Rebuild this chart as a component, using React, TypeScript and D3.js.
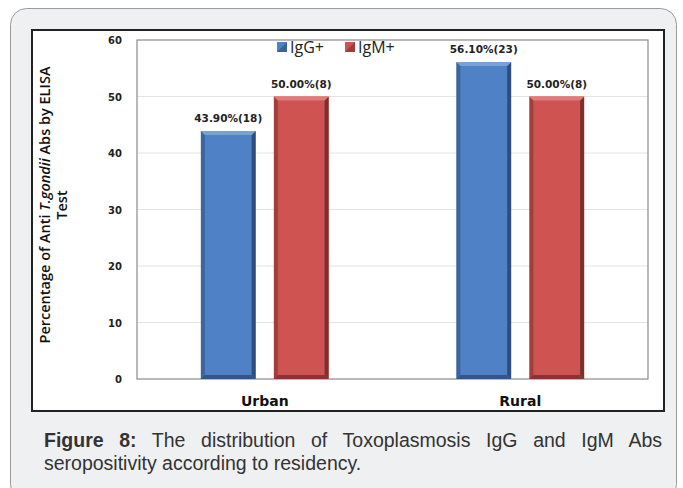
import { useEffect, useRef } from 'react';
import * as d3 from 'd3';

const categories = ['Urban', 'Rural'];
const seriesNames = ['IgG+', 'IgM+'];
const igg = [43.9, 56.1];
const igm = [50.0, 50.0];
const iggLabels = ['43.90%(18)', '56.10%(23)'];
const igmLabels = ['50.00%(8)', '50.00%(8)'];
const yTicks = [0, 10, 20, 30, 40, 50, 60];

const colors = ['#4f81c6', '#cf5350'];
const darks = ['#2e4f7c', '#7d2f2d'];
const lights = ['#7aa0d6', '#e07b78'];

const boldFont = 'DejaVu Sans, Verdana, sans-serif';

export default function App() {
  const ref = useRef<SVGSVGElement>(null);

  useEffect(() => {
    if (!ref.current) return;
    const svg = d3.select(ref.current);
    svg.selectAll('*').remove();

    const width = 683;
    const height = 488;
    svg.attr('width', width).attr('height', height);

    // card
    svg.append('rect')
      .attr('x', 10.5).attr('y', 8.5).attr('width', 666).attr('height', 492)
      .attr('rx', 16).attr('fill', '#eff0f2').attr('stroke', '#9a9a9a').attr('stroke-width', 1);

    // chart frame
    svg.append('rect')
      .attr('x', 32).attr('y', 30).attr('width', 632).attr('height', 381)
      .attr('fill', '#ffffff').attr('stroke', '#222').attr('stroke-width', 2);

    const left = 137, right = 648, top = 40, bottom = 379;

    const y = d3.scaleLinear().domain([0, 60]).range([bottom, top]);
    const x = d3.scaleBand().domain(categories).range([left, right]).paddingInner(0.5).paddingOuter(0.25);
    const xs = d3.scaleBand().domain(seriesNames).range([0, x.bandwidth()]).paddingInner(0.25);

    const g = svg.append('g');

    // gridlines
    g.selectAll('line.grid')
      .data(yTicks.filter((t) => t > 0 && t < 60))
      .enter().append('line')
      .attr('x1', left).attr('x2', right)
      .attr('y1', (d) => y(d)).attr('y2', (d) => y(d))
      .attr('stroke', '#e4e4e4').attr('stroke-width', 1);

    // plot border
    g.append('rect')
      .attr('x', left).attr('y', top).attr('width', right - left).attr('height', bottom - top)
      .attr('fill', 'none').attr('stroke', '#8a8a8a').attr('stroke-width', 1.2);

    // y tick labels
    g.selectAll('text.ytick')
      .data(yTicks)
      .enter().append('text')
      .attr('x', 122).attr('y', (d) => y(d) + 4)
      .attr('text-anchor', 'end')
      .attr('font-family', boldFont).attr('font-weight', 'bold')
      .attr('font-size', 10).attr('fill', '#222')
      .text((d) => d);

    const series = [igg, igm];
    const labels = [iggLabels, igmLabels];

    series.forEach((vals, si) => {
      categories.forEach((c, ci) => {
        const bx = x(c)! + xs(seriesNames[si])!;
        const bw = xs.bandwidth();
        const by = y(vals[ci]);
        const bh = bottom - by;
        const bev = 4;
        const bg = g.append('g');
        bg.append('rect')
          .attr('x', bx).attr('y', by).attr('width', bw).attr('height', bh)
          .attr('fill', colors[si]);
        // right dark bevel
        bg.append('polygon')
          .attr('points', `${bx + bw},${by} ${bx + bw},${by + bh} ${bx + bw - bev},${by + bh - bev} ${bx + bw - bev},${by + bev}`)
          .attr('fill', darks[si]);
        // bottom dark bevel
        bg.append('polygon')
          .attr('points', `${bx},${by + bh} ${bx + bw},${by + bh} ${bx + bw - bev},${by + bh - bev} ${bx + bev},${by + bh - bev}`)
          .attr('fill', darks[si]).attr('opacity', 0.85);
        // left bevel
        bg.append('polygon')
          .attr('points', `${bx},${by} ${bx + bev},${by + bev} ${bx + bev},${by + bh - bev} ${bx},${by + bh}`)
          .attr('fill', darks[si]).attr('opacity', 0.55);
        // top light bevel
        bg.append('polygon')
          .attr('points', `${bx},${by} ${bx + bw},${by} ${bx + bw - bev},${by + bev} ${bx + bev},${by + bev}`)
          .attr('fill', lights[si]);
        g.append('text')
          .attr('x', bx + bw / 2).attr('y', by - 9)
          .attr('text-anchor', 'middle')
          .attr('font-family', boldFont).attr('font-weight', 'bold')
          .attr('font-size', 10.5).attr('fill', '#222')
          .text(labels[si][ci]);
      });
    });

    // x labels
    g.selectAll('text.xlab')
      .data(categories)
      .enter().append('text')
      .attr('x', (d) => x(d)! + x.bandwidth() / 2)
      .attr('y', 406)
      .attr('text-anchor', 'middle')
      .attr('font-family', boldFont).attr('font-weight', 'bold')
      .attr('font-size', 14).attr('fill', '#111')
      .text((d) => d);

    // legend
    const legendX = [277, 345];
    seriesNames.forEach((name, i) => {
      g.append('rect')
        .attr('x', legendX[i]).attr('y', 42).attr('width', 10).attr('height', 10)
        .attr('fill', colors[i]);
      g.append('polygon')
        .attr('points', `${legendX[i]},52 ${legendX[i] + 10},42 ${legendX[i] + 10},52`)
        .attr('fill', darks[i]).attr('opacity', 0.6);
      g.append('text')
        .attr('x', legendX[i] + 13).attr('y', 53)
        .attr('font-family', 'Open Sans, sans-serif')
        .attr('font-size', 16).attr('fill', '#222')
        .text(name);
    });

    // y axis title
    const yt = g.append('text')
      .attr('transform', 'translate(50,205) rotate(-90)')
      .attr('text-anchor', 'middle')
      .attr('font-family', 'Open Sans, sans-serif').attr('font-weight', 600)
      .attr('font-size', 14.5).attr('fill', '#111');
    yt.append('tspan').text('Percentage of Anti ');
    yt.append('tspan').attr('font-style', 'italic').text('T.gondii');
    yt.append('tspan').text(' Abs by ELISA');
    g.append('text')
      .attr('transform', 'translate(67,205) rotate(-90)')
      .attr('text-anchor', 'middle')
      .attr('font-family', 'Open Sans, sans-serif').attr('font-weight', 600)
      .attr('font-size', 14.5).attr('fill', '#111')
      .text('Test');

    // caption (first line justified)
    const cap = g.append('text')
      .attr('x', 44).attr('y', 447)
      .attr('font-family', 'Liberation Sans, Arial, sans-serif')
      .attr('font-size', 19.5).attr('fill', '#333');
    cap.append('tspan').attr('font-weight', 'bold').text('Figure 8:');
    cap.append('tspan').text(' The distribution of Toxoplasmosis IgG and IgM Abs');
    const natural = (cap.node() as SVGTextElement).getComputedTextLength();
    const gaps = 9;
    const extra = (618 - natural) / gaps;
    if (extra > 0) cap.attr('word-spacing', extra);
    g.append('text')
      .attr('x', 44).attr('y', 470)
      .attr('font-family', 'Liberation Sans, Arial, sans-serif')
      .attr('font-size', 19.5).attr('fill', '#333')
      .text('seropositivity according to residency.');
  }, []);

  return (
    <svg ref={ref} style={{ position: 'absolute', left: 0, top: 0 }} />
  );
}
